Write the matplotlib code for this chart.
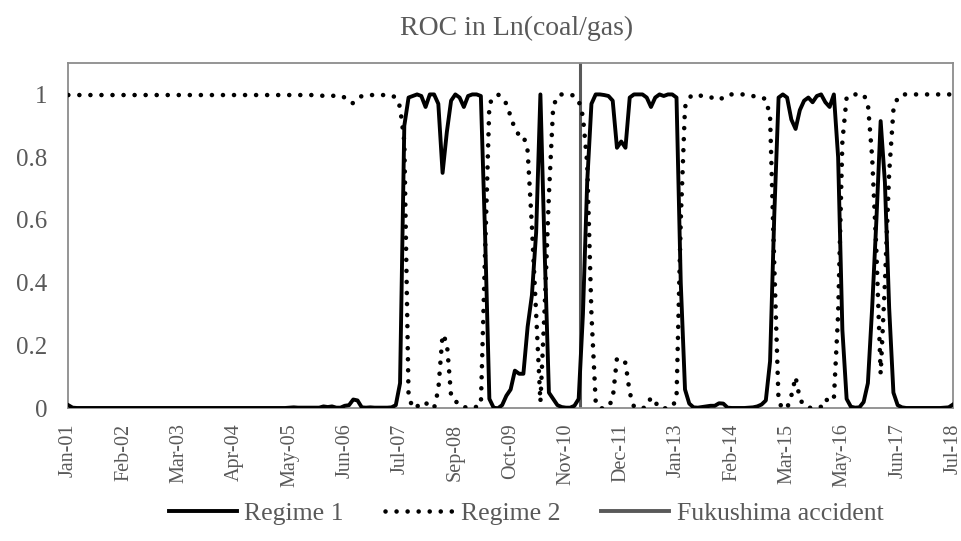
import numpy as np
import matplotlib
matplotlib.use("Agg")
import matplotlib.pyplot as plt
from matplotlib.lines import Line2D

# --------- Données (mensuelles) ---------
tick_labels = ["Jan-01", "Feb-02", "Mar-03", "Apr-04", "May-05", "Jun-06",
               "Jul-07", "Sep-08", "Oct-09", "Nov-10", "Dec-11", "Jan-13",
               "Feb-14", "Mar-15", "May-16", "Jun-17", "Jul-18"]
TICK_STEP = 13          # une étiquette toutes les 13 observations

# position de l'accident de Fukushima (en nb d'observations depuis Jan-01)
fukushima_pos = 120.3

# une ligne = 13 observations
regime1 = [
    0.010, 0.002, 0.001, 0.001, 0.001, 0.001, 0.001, 0.001, 0.001, 0.001, 0.001, 0.001, 0.001,
    0.001, 0.001, 0.001, 0.001, 0.001, 0.001, 0.001, 0.001, 0.001, 0.001, 0.001, 0.001, 0.001,
    0.001, 0.001, 0.001, 0.001, 0.001, 0.001, 0.001, 0.001, 0.001, 0.001, 0.001, 0.001, 0.001,
    0.001, 0.001, 0.001, 0.001, 0.001, 0.001, 0.001, 0.001, 0.001, 0.001, 0.001, 0.001, 0.001,
    0.002, 0.003, 0.002, 0.002, 0.002, 0.002, 0.002, 0.002, 0.006, 0.004, 0.006, 0.002, 0.002,
    0.008, 0.010, 0.028, 0.025, 0.003, 0.002, 0.003, 0.002, 0.002, 0.002, 0.002, 0.003, 0.010,
    0.080, 0.900, 0.990, 0.995, 1.000, 0.995, 0.960, 1.000, 1.000, 0.970, 0.750, 0.880, 0.980,
    1.000, 0.990, 0.960, 0.995, 1.000, 1.000, 0.995, 0.550, 0.030, 0.002, 0.000, 0.010, 0.040,
    0.060, 0.120, 0.110, 0.110, 0.260, 0.360, 0.560, 1.000, 0.500, 0.050, 0.030, 0.010, 0.004,
    0.002, 0.002, 0.008, 0.030, 0.300, 0.720, 0.970, 1.000, 1.000, 0.998, 0.995, 0.980, 0.830,
    0.850, 0.830, 0.990, 1.000, 1.000, 1.000, 0.990, 0.960, 0.990, 1.000, 0.995, 1.000, 1.000,
    0.990, 0.400, 0.060, 0.015, 0.003, 0.002, 0.004, 0.006, 0.008, 0.008, 0.016, 0.015, 0.002,
    0.001, 0.001, 0.001, 0.001, 0.002, 0.003, 0.006, 0.012, 0.025, 0.150, 0.620, 0.990, 1.000,
    0.990, 0.920, 0.890, 0.950, 0.980, 0.990, 0.975, 0.995, 1.000, 0.975, 0.960, 1.000, 0.800,
    0.250, 0.030, 0.005, 0.002, 0.003, 0.020, 0.080, 0.320, 0.600, 0.915, 0.720, 0.320, 0.050,
    0.010, 0.003, 0.001, 0.001, 0.001, 0.001, 0.001, 0.001, 0.001, 0.001, 0.001, 0.002, 0.003,
    0.012,
]

regime2 = [
    0.998, 0.998, 0.998, 0.998, 0.998, 0.998, 0.998, 0.998, 0.998, 0.998, 0.998, 0.998, 0.998,
    0.998, 0.998, 0.998, 0.998, 0.998, 0.998, 0.998, 0.998, 0.998, 0.998, 0.998, 0.998, 0.998,
    0.998, 0.998, 0.998, 0.998, 0.998, 0.998, 0.998, 0.998, 0.998, 0.998, 0.998, 0.998, 0.998,
    0.998, 0.998, 0.998, 0.998, 0.998, 0.998, 0.998, 0.998, 0.998, 0.998, 0.998, 0.998, 0.998,
    0.998, 0.998, 0.998, 0.998, 0.998, 0.998, 0.998, 0.998, 0.995, 0.996, 0.995, 0.997, 0.996,
    0.990, 0.975, 0.972, 0.985, 0.995, 0.998, 0.998, 0.998, 0.998, 0.998, 0.998, 0.997, 0.990,
    0.960, 0.850, 0.040, 0.000, 0.005, 0.020, 0.018, 0.005, 0.000, 0.060, 0.235, 0.210, 0.040,
    0.020, 0.020, 0.005, 0.000, 0.000, 0.005, 0.010, 0.500, 0.970, 0.990, 1.000, 0.990, 0.970,
    0.930, 0.890, 0.870, 0.870, 0.820, 0.580, 0.300, 0.020, 0.320, 0.680, 0.960, 0.995, 1.000,
    1.000, 1.000, 0.995, 0.980, 0.930, 0.780, 0.300, 0.020, 0.000, 0.000, 0.005, 0.030, 0.160,
    0.150, 0.145, 0.050, 0.005, 0.000, 0.000, 0.005, 0.035, 0.020, 0.000, 0.000, 0.000, 0.005,
    0.030, 0.600, 0.960, 0.990, 1.000, 0.998, 0.995, 0.990, 0.990, 0.990, 0.983, 0.990, 1.000,
    1.000, 1.000, 1.000, 1.000, 0.998, 0.995, 0.990, 0.990, 0.985, 0.930, 0.450, 0.020, 0.000,
    0.000, 0.040, 0.100, 0.030, 0.008, 0.003, 0.000, 0.000, 0.005, 0.030, 0.020, 0.030, 0.300,
    0.850, 0.990, 1.000, 1.000, 1.000, 1.000, 0.970, 0.800, 0.500, 0.110, 0.400, 0.750, 0.950,
    0.990, 1.000, 1.000, 1.000, 1.000, 1.000, 1.000, 1.000, 1.000, 1.000, 1.000, 1.000, 1.000,
    1.000,
]

# --------- Style ---------
plt.rcParams['font.family'] = ['Liberation Serif', 'DejaVu Serif']
TXT = '#595959'
FRAME = '#8c8c8c'
DOTS = (0, (0.01, 2.4))

fig = plt.figure(figsize=(9.62, 5.41), dpi=100)
ax = fig.add_axes([0.071, 0.2453, 0.9196, 0.6382])

x = np.arange(len(regime1))
ax.plot(x, regime1, color='black', lw=2.8, solid_joinstyle='round', zorder=3)
ax.plot(x, regime2, color='black', lw=3.3, linestyle=DOTS,
        dash_capstyle='round', zorder=3)
ax.axvline(fukushima_pos, color='#595959', lw=2.2, zorder=2)

ax.set_xlim(0, len(regime1) - 1)
ax.set_ylim(0, 1.1)

ax.set_yticks([0, 0.2, 0.4, 0.6, 0.8, 1.0])
ax.set_yticklabels(["0", "0.2", "0.4", "0.6", "0.8", "1"])
ax.set_xticks(np.arange(0, len(regime1), TICK_STEP))
ax.set_xticklabels(tick_labels, rotation=90)

ax.tick_params(axis='y', length=0, pad=15, labelsize=18, labelcolor=TXT)
ax.tick_params(axis='x', length=0, pad=11, labelsize=14.5, labelcolor=TXT)
for sp in ax.spines.values():
    sp.set_color(FRAME)
    sp.set_linewidth(1.3)

fig.text(0.537, 0.948, "ROC in Ln(coal/gas)", ha='center', va='center',
         fontsize=20, color=TXT)

handles = [
    Line2D([], [], color='black', lw=2.8),
    Line2D([], [], color='black', lw=3.3, linestyle=DOTS,
           dash_capstyle='round'),
    Line2D([], [], color='#595959', lw=2.8),
]
leg = fig.legend(handles, ["Regime 1", "Regime 2", "Fukushima accident"],
                 loc='center', bbox_to_anchor=(0.547, 0.05), ncol=3,
                 frameon=False, fontsize=18.5, handlelength=2.65,
                 handletextpad=0.3, columnspacing=1.6)
for t in leg.get_texts():
    t.set_color(TXT)

fig.savefig("out.png", dpi=100)
